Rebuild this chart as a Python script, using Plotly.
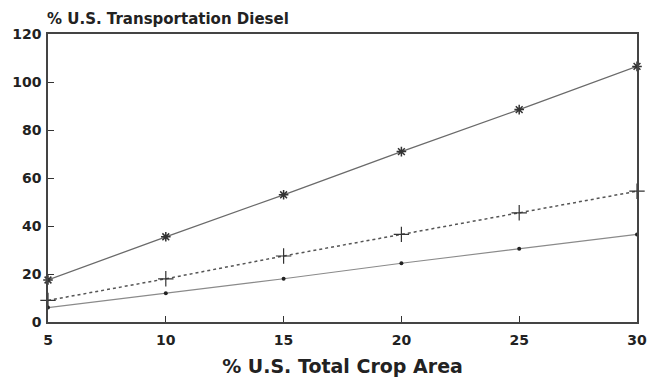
import plotly.graph_objects as go

crop_area = [5, 10, 15, 20, 25, 30]
series_high = [17.5, 35.5, 53, 71, 88.5, 106.5]
series_mid = [9, 18, 27.5, 36.5, 45.5, 54.5]
series_low = [6, 12, 18, 24.5, 30.5, 36.5]

x_ticks = [5, 10, 15, 20, 25, 30]
y_ticks = [0, 20, 40, 60, 80, 100, 120]

fig = go.Figure()
fig.add_trace(go.Scatter(x=crop_area, y=series_high, mode="lines+markers", cliponaxis=False,
                         line=dict(color="#6a6a6a", width=1.3),
                         marker=dict(symbol="asterisk-open", size=8, color="#333333", line=dict(width=1.5, color="#333333"))))
fig.add_trace(go.Scatter(x=crop_area, y=series_mid, mode="lines+markers", cliponaxis=False,
                         line=dict(color="#555555", width=1.5, dash="dot"),
                         marker=dict(symbol="cross-thin-open", size=11, color="#333333", line=dict(width=1.2, color="#333333"))))
fig.add_trace(go.Scatter(x=crop_area, y=series_low, mode="lines+markers", cliponaxis=False,
                         line=dict(color="#8a8a8a", width=1.1),
                         marker=dict(symbol="circle", size=4, color="#222222")))

font_family = "DejaVu Sans, sans-serif"
fig.update_layout(
    width=648, height=377,
    margin=dict(l=48, r=11, t=34, b=55),
    paper_bgcolor="white", plot_bgcolor="white",
    showlegend=False,
    font=dict(family=font_family, color="#222222"),
    xaxis=dict(range=[5, 30], tickvals=x_ticks, ticks="inside", ticklen=6, tickcolor="#333333",
               showline=True, linecolor="#444444", linewidth=1.5, mirror=True, showgrid=False,
               zeroline=False, ticklabeloverflow="allow", automargin=False, ticklabelstandoff=4,
               tickfont=dict(size=14, family=font_family, weight="bold"),
               title=dict(text="<b>% U.S. Total Crop Area</b>", font=dict(size=19), standoff=14)),
    yaxis=dict(range=[0, 120], tickvals=y_ticks, ticks="inside", ticklen=6, tickcolor="#333333",
               showline=True, linecolor="#444444", linewidth=1.5, mirror=True, showgrid=False,
               zeroline=False, ticklabeloverflow="allow", automargin=False, ticklabelstandoff=2,
               tickfont=dict(size=14, family=font_family, weight="bold")),
    annotations=[dict(text="<b>% U.S. Transportation Diesel</b>", xref="paper", yref="paper",
                      x=0.0, y=1.0, xanchor="left", yanchor="bottom", yshift=4, xshift=-3, showarrow=False,
                      font=dict(size=15, family=font_family, color="#222222"))],
)

fig.write_html("out.html", config={"displayModeBar": False},
               post_script="document.body.style.margin='0';document.body.style.overflow='hidden';")
